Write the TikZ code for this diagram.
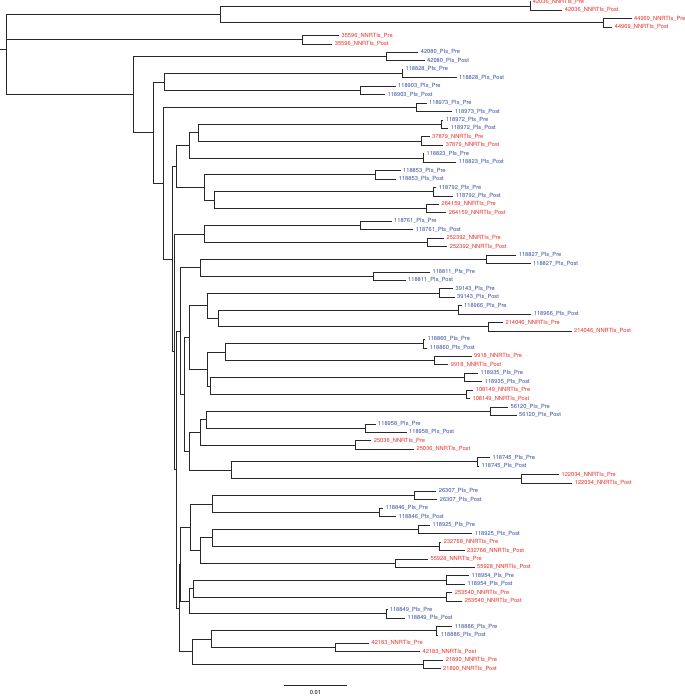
\documentclass[tikz,border=0pt]{standalone}
\usepackage{fontspec}
\setmainfont{TeX Gyre Heros}
\definecolor{NNRTIs}{RGB}{230,42,36}
\definecolor{PIs}{RGB}{50,72,158}
\definecolor{treeline}{RGB}{40,40,40}
\newcommand\Yt[1]{(1.7+8.443*((#1)-1))}
\newcommand\pair[7]{%
  \coordinate (#1) at (#2,{\Yt{2*#3-0.5}});
  \coordinate (#1e1) at ({max(#2,#6-3)},{\Yt{2*#3-1}});
  \coordinate (#1e2) at ({max(#2,#7-3)},{\Yt{2*#3}});
  \draw[branch] (#1) |- (#1e1);
  \draw[branch] (#1) |- (#1e2);
  \node[leaflabel,text=#5] (#1pre) at (#1e1) {#4\_#5\_Pre};
  \node[leaflabel,text=#5] (#1post) at (#1e2) {#4\_#5\_Post};
}
\newcommand\inode[3]{\coordinate (#1) at (#2,{\Yt{#3}});}
\newcommand\joinkids[3]{\draw[branch] (#1) |- (#2); \draw[branch] (#1) |- (#3);}
\begin{document}
\begin{tikzpicture}[x=1pt,y=-1pt,
  branch/.style={draw=treeline,line width=0.7pt,line cap=rect},
  leaflabel/.style={anchor=west,inner sep=0pt,xshift=2.7pt,font=\fontsize{5.7}{6}\selectfont}]
\useasboundingbox (0,0) rectangle (685,696);
% leaf pairs
\pair{p1}{530}{1}{42036}{NNRTIs}{533}{565}
\pair{p2}{603.3}{2}{44969}{NNRTIs}{634.3}{615}
\pair{p3}{302}{3}{35596}{NNRTIs}{341.7}{335}
\pair{p4}{386.7}{4}{42080}{PIs}{421}{427.3}
\pair{p5}{402.7}{5}{118828}{PIs}{405}{459.3}
\pair{p6}{360}{6}{118903}{PIs}{398.3}{387.7}
\pair{p7}{416}{7}{118973}{PIs}{429.3}{455}
\pair{p8}{441.7}{8}{118972}{PIs}{446}{451}
\pair{p9}{421}{9}{37879}{NNRTIs}{432.3}{446}
\pair{p10}{423.3}{10}{118823}{PIs}{426.7}{459}
\pair{p11}{375.7}{11}{118853}{PIs}{403.3}{399}
\pair{p12}{433.3}{12}{118792}{PIs}{439}{456}
\pair{p13}{426}{13}{264159}{NNRTIs}{441.7}{449}
\pair{p14}{360.7}{14}{118761}{PIs}{394.3}{416}
\pair{p15}{427.7}{15}{252392}{NNRTIs}{446.7}{450}
\pair{p16}{486.7}{16}{118827}{PIs}{519}{533.3}
\pair{p17}{373.3}{17}{118811}{PIs}{432.7}{408.3}
\pair{p18}{439}{18}{39143}{PIs}{455.7}{457.3}
\pair{p19}{458.3}{19}{118966}{PIs}{464.3}{534}
\pair{p20}{488.3}{20}{214046}{NNRTIs}{505.7}{574.3}
\pair{p21}{423.3}{21}{118860}{PIs}{427.7}{430}
\pair{p22}{434}{22}{9918}{NNRTIs}{474.3}{451}
\pair{p23}{464}{23}{118935}{PIs}{480.7}{485}
\pair{p24}{466}{24}{108149}{NNRTIs}{476}{472.7}
\pair{p25}{490}{25}{56120}{PIs}{510.7}{519.3}
\pair{p26}{365}{26}{118958}{PIs}{378.3}{409.3}
\pair{p27}{355.7}{27}{25036}{NNRTIs}{374}{416.7}
\pair{p28}{477.7}{28}{118745}{PIs}{492.7}{481.7}
\pair{p29}{521.7}{29}{122034}{NNRTIs}{561.7}{575}
\pair{p30}{414.3}{30}{26307}{PIs}{439}{440}
\pair{p31}{379.3}{31}{118846}{PIs}{385.7}{399}
\pair{p32}{418.3}{32}{118925}{PIs}{432.7}{475}
\pair{p33}{439.3}{33}{232768}{NNRTIs}{444}{467.3}
\pair{p34}{395}{34}{55928}{NNRTIs}{430.7}{477.3}
\pair{p35}{446.7}{35}{118954}{PIs}{471.7}{467.7}
\pair{p36}{446}{36}{253540}{NNRTIs}{455}{465}
\pair{p37}{386.7}{37}{118849}{PIs}{390}{407.7}
\pair{p38}{436.7}{38}{118886}{PIs}{455}{441}
\pair{p39}{335}{39}{42183}{NNRTIs}{371.7}{422.7}
\pair{p40}{423.3}{40}{21890}{NNRTIs}{446}{443.3}
% internal nodes
\inode{root}{6.7}{6.666}
\inode{N1}{220}{2.5}
\inode{N2}{133.7}{11.997}
\inode{N3}{153.3}{16.494}
\inode{N4}{164.3}{10.5}
\inode{N5}{163.3}{22.488}
\inode{C}{172.3}{31.477}
\inode{N6}{176}{20.5}
\inode{N7}{189.3}{18}
\inode{N9}{198.3}{16.5}
\inode{N8}{204.3}{23}
\inode{N10}{214.3}{24.5}
\inode{D}{174}{42.453}
\inode{N11}{204.3}{28.5}
\inode{F}{176.7}{56.406}
\inode{E}{180}{40}
\inode{N12}{200}{32.5}
\inode{H}{184.3}{47.5}
\inode{I}{189}{40.75}
\inode{J}{207.3}{37}
\inode{K}{218.3}{38.5}
\inode{L}{207.3}{44.5}
\inode{M}{225.7}{42.5}
\inode{Q}{210}{46.5}
\inode{R}{189}{54.25}
\inode{S}{200}{52}
\inode{T}{206.3}{50.5}
\inode{U}{231}{56.5}
\inode{G}{179}{72.8125}
\inode{V}{180}{67.625}
\inode{X}{190.7}{63.25}
\inode{Y}{212.3}{60.5}
\inode{Z}{200}{66}
\inode{AA}{212.7}{64.5}
\inode{AB}{189.3}{72}
\inode{AC}{193.3}{70.5}
\inode{W}{192.3}{78}
\inode{AD}{211.7}{76.5}
\coordinate (stub) at (0,{\Yt{6.666}});
% edges
\draw[branch] (stub) -- (root);
\draw[branch] (root) |- (N1);
\draw[branch] (root) |- (p3);
\draw[branch] (root) |- (N2);
\joinkids{N1}{p1}{p2}
\joinkids{N2}{p4}{N3}
\joinkids{N3}{N4}{N5}
\joinkids{N4}{p5}{p6}
\joinkids{N5}{p7}{C}
\joinkids{C}{N6}{D}
\joinkids{N6}{N7}{N8}
\joinkids{N7}{N9}{p10}
\joinkids{N9}{p8}{p9}
\joinkids{N8}{p11}{N10}
\joinkids{N10}{p12}{p13}
\joinkids{D}{N11}{F}
\joinkids{N11}{p14}{p15}
\joinkids{F}{E}{G}
\joinkids{E}{N12}{H}
\joinkids{N12}{p16}{p17}
\joinkids{H}{I}{R}
\joinkids{I}{J}{L}
\joinkids{J}{p18}{K}
\joinkids{K}{p19}{p20}
\joinkids{L}{M}{Q}
\joinkids{M}{p21}{p22}
\joinkids{Q}{p23}{p24}
\joinkids{R}{S}{U}
\joinkids{S}{T}{p27}
\joinkids{T}{p25}{p26}
\joinkids{U}{p28}{p29}
\joinkids{G}{V}{W}
\joinkids{V}{X}{AB}
\joinkids{X}{Y}{Z}
\joinkids{Y}{p30}{p31}
\joinkids{Z}{AA}{p34}
\joinkids{AA}{p32}{p33}
\joinkids{AB}{AC}{p37}
\joinkids{AC}{p35}{p36}
\joinkids{W}{AD}{p40}
\joinkids{AD}{p38}{p39}
% scale bar
\coordinate (sb1) at (284.3,685);
\coordinate (sb2) at (346.7,685);
\draw[branch,line cap=butt] (sb1) -- (sb2);
\node[inner sep=0pt,font=\fontsize{5.7}{6}\selectfont] (sblabel) at (315.5,693) {0.01};
\end{tikzpicture}
\end{document}
